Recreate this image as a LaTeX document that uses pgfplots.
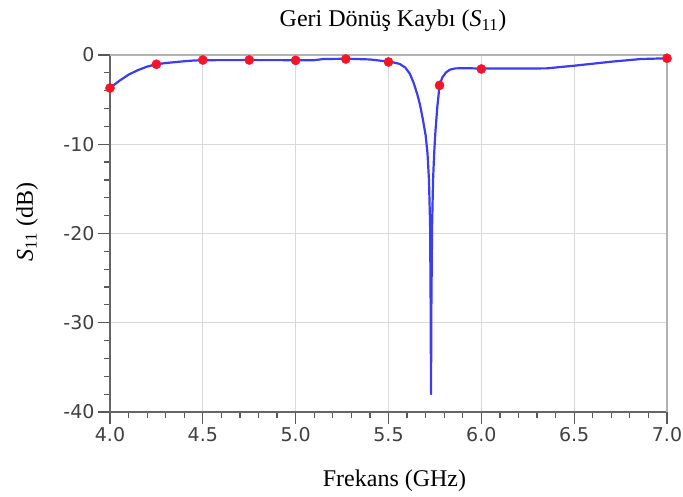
\documentclass[border=0pt]{standalone}
\usepackage{fontspec}
\setmainfont{Liberation Serif}
\newfontfamily\tickfont{DejaVu Sans}
\usepackage{pgfplots}
\pgfplotsset{compat=1.18}
\definecolor{curveblue}{RGB}{60,60,240}
\definecolor{mkred}{RGB}{245,20,40}
\begin{document}
\begin{tikzpicture}
\path[use as bounding box] (-110pt,-85pt) rectangle (573pt,412pt);
\begin{axis}[
  at={(0pt,0pt)}, anchor=south west,
  scale only axis, width=557pt, height=357pt,
  xmin=4, xmax=7, ymin=-40, ymax=0,
  xtick={4,4.5,5,5.5,6,6.5,7}, ytick={-40,-30,-20,-10,0},
  minor x tick num=4, minor y tick num=4,
  axis x line*=bottom, axis y line*=left,
  tick align=outside,
  major tick length=12pt, minor tick length=6pt,
  grid=major, major grid style={draw=gray!30, line width=1.3pt},
  axis line style={draw=black!60, line width=1.3pt},
  every tick/.style={black!65, line width=1.2pt},
  /pgf/number format/assume math mode=true,
  xticklabel style={font=\tickfont\fontsize{19}{22}\selectfont, text=black!75,
    /pgf/number format/.cd, fixed, fixed zerofill, precision=1},
  yticklabel style={font=\tickfont\fontsize{19}{22}\selectfont, text=black!75},
  clip=false,
]
\draw[gray!60, line width=1.6pt] (axis cs:4,0) -- (axis cs:7,0) -- (axis cs:7,-40);
\addplot[only marks, mark=*, mark size=4.6pt, mkred, mark options={draw=mkred, fill=mkred}] coordinates {
 (4.00,-3.7) (4.25,-1.04) (4.50,-0.56) (4.75,-0.56) (5.00,-0.60) (5.27,-0.45)
 (5.50,-0.78) (5.775,-3.4) (6.00,-1.57) (7.00,-0.37)
};
\addplot[curveblue, line width=2.2pt, no marks, line join=round] coordinates {
 (4.00,-3.7) (4.05,-2.9) (4.10,-2.2) (4.15,-1.7) (4.20,-1.3) (4.25,-1.04)
 (4.30,-0.9) (4.35,-0.8) (4.40,-0.7) (4.45,-0.62) (4.50,-0.58) (4.75,-0.57)
 (5.00,-0.58) (5.10,-0.58) (5.15,-0.45) (5.28,-0.42) (5.40,-0.5) (5.45,-0.62)
 (5.50,-0.75) (5.53,-0.85) (5.56,-1.0) (5.59,-1.4) (5.615,-2.1) (5.635,-3.1)
 (5.655,-4.4) (5.67,-5.6) (5.685,-7.2) (5.70,-9) (5.71,-11) (5.718,-14)
 (5.724,-19) (5.727,-28) (5.729,-38) (5.731,-28) (5.735,-19) (5.740,-14)
 (5.746,-11) (5.753,-8.5) (5.763,-5.8) (5.775,-3.4) (5.79,-2.5) (5.81,-1.95)
 (5.83,-1.65) (5.86,-1.5) (5.92,-1.48) (6.00,-1.52) (6.35,-1.5) (6.50,-1.2)
 (6.70,-0.75) (6.86,-0.45) (7.00,-0.37)
};
\end{axis}
\node[anchor=base, font=\fontsize{24}{28}\selectfont] at (283pt,385pt) {Geri Dönüş Kaybı (\textit{S}\textsubscript{11})};
\node[anchor=base, font=\fontsize{24}{28}\selectfont] at (284.5pt,-74.7pt) {Frekans (GHz)};
\node[anchor=base, rotate=90, font=\fontsize{24}{28}\selectfont] at (-77pt,190pt) {\textit{S}\textsubscript{11} (dB)};
\end{tikzpicture}
\end{document}
